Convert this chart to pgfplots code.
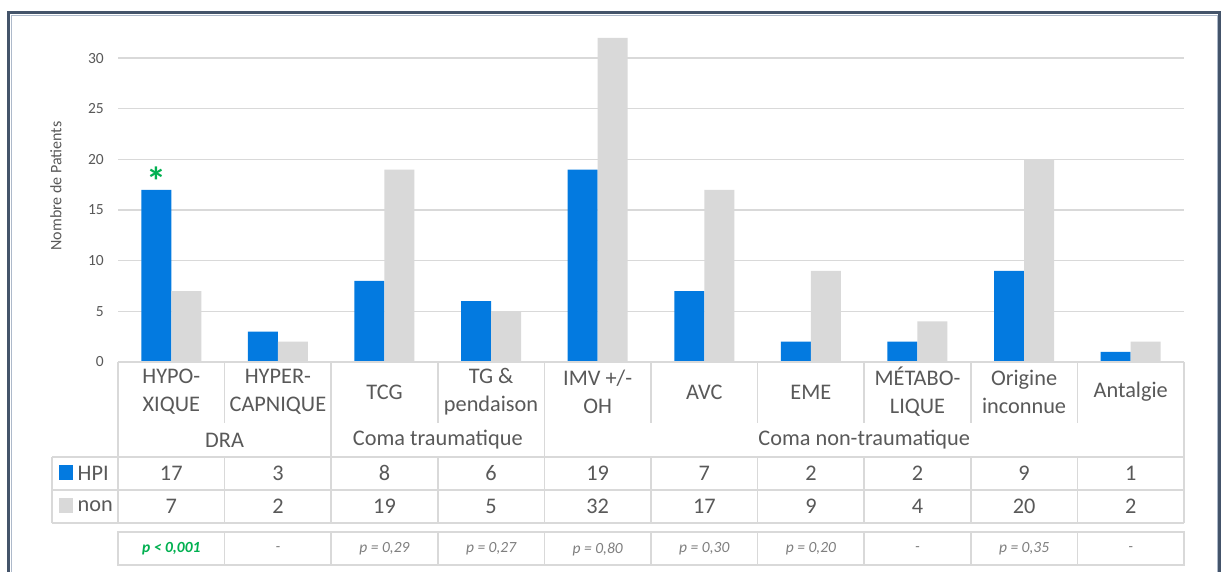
\documentclass[border=0pt]{standalone}
\usepackage{fontspec}
\setmainfont{Carlito}
\usepackage{pgfplots}
\pgfplotsset{compat=1.18}
\definecolor{hpi}{RGB}{3,122,224}
\definecolor{non}{RGB}{217,217,217}
\definecolor{txt}{RGB}{89,89,89}
\definecolor{gridc}{RGB}{217,217,217}
\definecolor{tline}{RGB}{217,217,217}
\definecolor{framec}{RGB}{68,84,106}
\definecolor{framel}{RGB}{173,185,202}
\definecolor{sig}{RGB}{0,176,80}
\definecolor{pgray}{RGB}{127,127,127}
\begin{document}
\begin{tikzpicture}
\useasboundingbox (0pt,0pt) rectangle (1221pt,-571pt);
\fill[white] (0pt,0pt) rectangle (1221pt,-571pt);
\begin{axis}[
  at={(118pt,-362pt)}, anchor=south west, scale only axis,
  width=1066pt, height=324.2pt,
  xmin=-0.5, xmax=9.5, ymin=0, ymax=32,
  ybar=0pt, bar width=30pt,
  axis line style={draw=none},
  ytick={0,5,...,30},
  ymajorgrids, grid style={draw=gridc, line width=1.2pt},
  major tick length=0pt,
  xtick={0,...,9},
  xticklabels={{HYPO-\\XIQUE},{HYPER-\\CAPNIQUE},TCG,{TG \&\\pendaison},{IMV +/-\\OH},AVC,EME,{MÉTABO-\\LIQUE},{Origine\\inconnue},Antalgie},
  xticklabel style={font=\fontsize{22.3}{28}\selectfont, text=txt, align=center, anchor=center, yshift=-30pt},
  yticklabel style={font=\fontsize{15.5}{17}\selectfont, text=txt, inner sep=0pt, xshift=-14pt},
  /pgf/number format/assume math mode=true,
  clip=false,
]
\addplot[fill=hpi, draw=none] coordinates {(0,17) (1,3) (2,8) (3,6) (4,19) (5,7) (6,2) (7,2) (8,9) (9,1)};
\addplot[fill=non, draw=none] coordinates {(0,7) (1,2) (2,19) (3,5) (4,32) (5,17) (6,9) (7,4) (8,20) (9,2)};
\node[font=\bfseries\fontsize{40}{40}\selectfont, text=sig, inner sep=0pt] at (axis cs:0,17) [xshift=-15pt, yshift=8.4pt] {*};
\end{axis}
\begin{scope}[x=1pt,y=-1pt]
% frame
\draw[framec, line width=3.2pt] (8.8,620) -- (8.8,12.7) -- (1219.6,12.7) -- (1219.6,620);
\draw[framel, line width=1pt] (11.2,620) -- (11.2,15) -- (1217.3,15) -- (1217.3,620);
% table lines
\begin{scope}[tline, line width=1.6pt]
\draw (118,362) -- (1184,362);
\foreach \k in {1,3,5,6,7,8,9} \draw ({118+106.6*\k},362) -- ({118+106.6*\k},423);
\foreach \k in {0,2,4,10} \draw ({118+106.6*\k},362) -- ({118+106.6*\k},523);
\foreach \k in {1,3,5,6,7,8,9} \draw ({118+106.6*\k},457) -- ({118+106.6*\k},523);
\draw (52,457) -- (52,523);
\foreach \yy in {457,490,523} \draw (52,\yy) -- (1184,\yy);
\draw (118,532) rectangle (1184,565);
\foreach \k in {1,...,9} \draw ({118+106.6*\k},532) -- ({118+106.6*\k},565);
\end{scope}
% group labels and table values
\begin{scope}[font=\fontsize{22.3}{26}\selectfont, text=txt]
\node at (224.6,440) {DRA};
\node at (437.8,440) {Coma traumatique};
\node at (864.2,440) {Coma non-traumatique};
\foreach \v [count=\i from 0] in {17,3,8,6,19,7,2,2,9,1} \node at ({171.3+106.6*\i},473) {\v};
\foreach \v [count=\i from 0] in {7,2,19,5,32,17,9,4,20,2} \node at ({171.3+106.6*\i},506) {\v};
\fill[hpi] (59,465) rectangle (73,480);
\fill[non] (59,498) rectangle (73,513);
\node[anchor=west, inner sep=0pt] at (77.5,473) {HPI};
\node[anchor=west, inner sep=0pt] at (77.5,506) {non};
\end{scope}
% p values
\begin{scope}[font=\itshape\fontsize{15.5}{17}\selectfont, text=pgray]
\node[text=sig, font=\bfseries\itshape\fontsize{15.5}{17}\selectfont] at (171.3,549) {p < 0,001};
\node at (277.9,549) {-};
\node at (384.5,549) {p = 0,29};
\node at (491.1,549) {p = 0,27};
\node at (597.7,549) {p = 0,80};
\node at (704.3,549) {p = 0,30};
\node at (810.9,549) {p = 0,20};
\node at (917.5,549) {-};
\node at (1024.1,549) {p = 0,35};
\node at (1130.7,549) {-};
\end{scope}
\node[rotate=90, font=\fontsize{16}{18}\selectfont, text=txt] at (56,186) {Nombre de Patients};
\end{scope}
\end{tikzpicture}
\end{document}
